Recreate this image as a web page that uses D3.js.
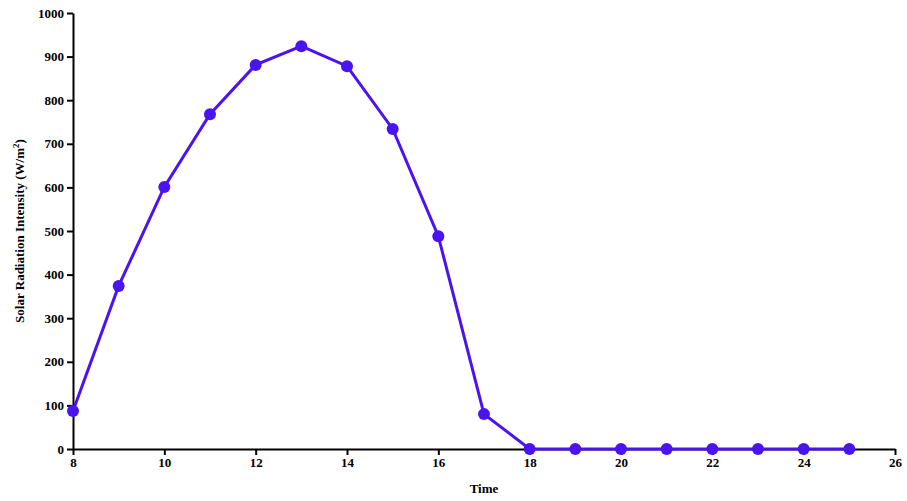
<!DOCTYPE html>
<html><head><meta charset="utf-8">
<script src="https://cdn.jsdelivr.net/npm/d3@7"></script>
<style>
body{margin:0;background:#fff}
text{font-family:"Liberation Serif","Times New Roman",serif;font-weight:bold}
</style></head><body>
<svg id="chart" width="907" height="501"></svg>
<script>
const hours = [8,9,10,11,12,13,14,15,16,17,18,19,20,21,22,23,24,25]
const radiation = [87,374,601,768,881,924,878,734,488,80,0,0,0,0,0,0,0,0]
const xTicks = [8,10,12,14,16,18,20,22,24,26]
const yTicks = [0,100,200,300,400,500,600,700,800,900,1000]

const svg = d3.select('#chart')
const margin = {left: 73, right: 12, top: 13, bottom: 52}
const width = 907, height = 501

const x = d3.scaleLinear().domain([8, 26]).range([margin.left, width - margin.right])
const y = d3.scaleLinear().domain([0, 1000]).range([height - margin.bottom, margin.top])

const xAxis = svg.append('g')
  .attr('transform', `translate(0,${y(0)})`)
  .call(d3.axisBottom(x).tickValues(xTicks).tickFormat(d3.format('d')).tickSize(6).tickSizeOuter(0))
const yAxis = svg.append('g')
  .attr('transform', `translate(${margin.left},0)`)
  .call(d3.axisLeft(y).tickValues(yTicks).tickFormat(d3.format('d')).tickSize(6).tickSizeOuter(0))

;[xAxis, yAxis].forEach(a => {
  a.selectAll('path,line').attr('stroke', '#000').attr('stroke-width', 2)
  a.selectAll('text').attr('font-size', 13).attr('fill', '#000')
    .style('font-family', '"Liberation Serif",serif').style('font-weight', 'bold')
})

svg.append('text')
  .attr('x', x(17)).attr('y', 493)
  .attr('text-anchor', 'middle').attr('font-size', 13)
  .text('Time')

svg.append('text')
  .attr('transform', `translate(24,${y(500)}) rotate(-90)`)
  .attr('text-anchor', 'middle').attr('font-size', 13)
  .html('Solar Radiation Intensity (W/m<tspan baseline-shift="super" font-size="9">2</tspan>)')

const color = '#4a14f0'
const pts = hours.map((h, i) => [h, radiation[i]])

svg.append('path')
  .datum(pts)
  .attr('fill', 'none')
  .attr('stroke', color)
  .attr('stroke-width', 3)
  .attr('d', d3.line().x(d => x(d[0])).y(d => y(d[1])))

svg.append('g').selectAll('circle')
  .data(pts)
  .join('circle')
  .attr('cx', d => x(d[0]))
  .attr('cy', d => y(d[1]))
  .attr('r', 6)
  .attr('fill', color)
</script>
</body></html>
